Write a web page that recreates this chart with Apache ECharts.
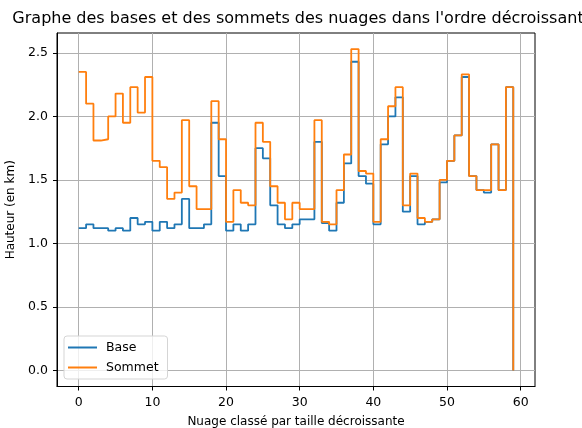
<!DOCTYPE html>
<html>
<head>
<meta charset="utf-8">
<script src="https://cdn.jsdelivr.net/npm/echarts@6/dist/echarts.min.js"></script>
<style>
  html, body { margin: 0; padding: 0; background: #fff; }
  #chart { width: 582px; height: 428px; }
</style>
</head>
<body>
<div id="chart"></div>
<script>
// hauteurs (km) des nuages, classés par taille décroissante
const base = [
  1.12, 1.15, 1.12, 1.12, 1.10, 1.12, 1.10, 1.20, 1.15, 1.17,
  1.10, 1.17, 1.12, 1.15, 1.35, 1.12, 1.12, 1.15, 1.95, 1.53,
  1.10, 1.15, 1.10, 1.15, 1.75, 1.67, 1.30, 1.15, 1.12, 1.15,
  1.19, 1.19, 1.80, 1.16, 1.10, 1.32, 1.63, 2.43, 1.53, 1.47,
  1.15, 1.78, 2.00, 2.15, 1.25, 1.53, 1.15, 1.17, 1.19, 1.48,
  1.65, 1.85, 2.31, 1.53, 1.42, 1.40, 1.78, 1.42, 2.23, 0
];
const sommet = [
  2.35, 2.10, 1.81, 1.82, 2.00, 2.18, 1.95, 2.23, 2.03, 2.31,
  1.65, 1.60, 1.35, 1.40, 1.97, 1.45, 1.27, 1.27, 2.12, 1.82,
  1.17, 1.42, 1.32, 1.30, 1.95, 1.80, 1.45, 1.32, 1.19, 1.32,
  1.27, 1.27, 1.97, 1.17, 1.15, 1.42, 1.70, 2.53, 1.57, 1.55,
  1.17, 1.82, 2.08, 2.23, 1.30, 1.55, 1.20, 1.17, 1.19, 1.50,
  1.65, 1.85, 2.33, 1.53, 1.42, 1.42, 1.78, 1.42, 2.23, 0
];
const xTicks = [0, 10, 20, 30, 40, 50, 60];
const yTicks = [0, 0.5, 1.0, 1.5, 2.0, 2.5];

const font = 'DejaVu Sans';
const chart = echarts.init(document.getElementById('chart'));

function toPoints(values) {
  return values.map((v, i) => [i, v]);
}

let option = {
  animation: false,
  title: {
    text: "Graphe des bases et des sommets des nuages dans l'ordre décroissant",
    left: 293,
    textAlign: 'center',
    top: 6,
    textStyle: { fontFamily: font, fontSize: 16, fontWeight: 'normal', color: '#000' }
  },
  grid: {
    left: 57, right: 47, top: 33, bottom: 41.5,
    outerBoundsMode: 'none',
    show: true, borderColor: '#000', borderWidth: 1, backgroundColor: 'transparent'
  },
  legend: {
    orient: 'vertical',
    left: 64, top: 336,
    icon: 'rect',
    itemWidth: 29, itemHeight: 2, itemGap: 7,
    padding: [5, 9, 5, 4],
    backgroundColor: 'rgba(255,255,255,0.8)',
    borderColor: '#d5d5d5', borderWidth: 1, borderRadius: 3,
    textStyle: { fontFamily: font, fontSize: 12.5, color: '#000', padding: [0, 0, 0, 4] },
    data: ['Base', 'Sommet']
  },
  xAxis: {
    type: 'value',
    min: -2.95, max: 61.95,
    name: 'Nuage classé par taille décroissante',
    nameLocation: 'middle', nameGap: 29,
    nameTextStyle: { fontFamily: font, fontSize: 12, color: '#000' },
    axisLine: { show: true, onZero: false, lineStyle: { color: '#000', width: 1 } },
    axisTick: { show: true, inside: false, length: 4, customValues: xTicks, lineStyle: { color: '#000' } },
    axisLabel: { customValues: xTicks, fontFamily: font, fontSize: 12.5, color: '#000', margin: 10 },
    splitLine: { show: true, lineStyle: { color: '#b0b0b0', width: 1 } }
  },
  yAxis: {
    type: 'value',
    min: -0.1265, max: 2.6565,
    name: 'Hauteur (en km)',
    nameLocation: 'middle', nameGap: 33,
    nameTextStyle: { fontFamily: font, fontSize: 12, color: '#000' },
    axisLine: { show: true, onZero: false, lineStyle: { color: '#000', width: 1 } },
    axisTick: { show: true, inside: false, length: 4, customValues: yTicks, lineStyle: { color: '#000' } },
    axisLabel: {
      customValues: yTicks, fontFamily: font, fontSize: 12.5, color: '#000', margin: 9,
      formatter: v => v.toFixed(1)
    },
    splitLine: { show: true, lineStyle: { color: '#b0b0b0', width: 1 } }
  },
  series: [
    {
      name: 'Base', type: 'line', step: 'end', showSymbol: false, symbol: 'none',
      data: toPoints(base),
      itemStyle: { color: '#1f77b4' },
      lineStyle: { color: '#1f77b4', width: 1.8 }
    },
    {
      name: 'Sommet', type: 'line', step: 'end', showSymbol: false, symbol: 'none',
      data: toPoints(sommet),
      itemStyle: { color: '#ff7f0e' },
      lineStyle: { color: '#ff7f0e', width: 1.8 }
    }
  ]
};
chart.setOption(option);
</script>
</body>
</html>
